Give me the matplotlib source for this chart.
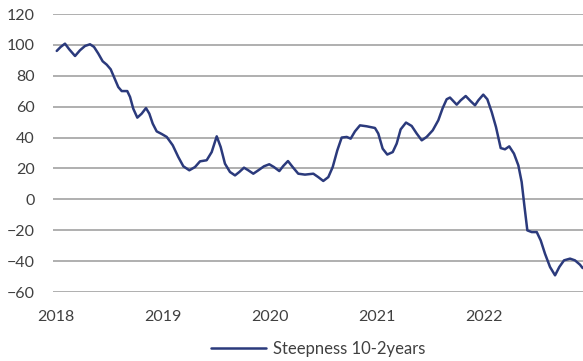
import matplotlib
matplotlib.use('Agg')
import matplotlib.pyplot as plt

# puntos (año decimal, pb)
fechas = [2018.007, 2018.044, 2018.084, 2018.124, 2018.178, 2018.224, 2018.271, 2018.318,
          2018.355, 2018.395, 2018.436, 2018.474, 2018.511, 2018.542, 2018.582, 2018.614,
          2018.666, 2018.692, 2018.722, 2018.760, 2018.801, 2018.841, 2018.872, 2018.904,
          2018.941, 2018.988, 2019.035, 2019.091, 2019.143, 2019.190, 2019.246, 2019.299,
          2019.346, 2019.408, 2019.455, 2019.502, 2019.539, 2019.579, 2019.626, 2019.673,
          2019.713, 2019.757, 2019.797, 2019.844, 2019.891, 2019.944, 2019.993, 2020.037,
          2020.087, 2020.124, 2020.168, 2020.212, 2020.264, 2020.327, 2020.405, 2020.451,
          2020.498, 2020.545, 2020.586, 2020.629, 2020.670, 2020.717, 2020.754, 2020.794,
          2020.841, 2020.903, 2020.981, 2021.012, 2021.053, 2021.096, 2021.147, 2021.184,
          2021.221, 2021.271, 2021.324, 2021.371, 2021.418, 2021.464, 2021.521, 2021.573,
          2021.614, 2021.651, 2021.682, 2021.745, 2021.782, 2021.829, 2021.876, 2021.916,
          2021.947, 2021.993, 2022.031, 2022.072, 2022.112, 2022.156, 2022.196, 2022.236,
          2022.280, 2022.321, 2022.352, 2022.377, 2022.405, 2022.446, 2022.493, 2022.530,
          2022.570, 2022.617, 2022.664, 2022.704, 2022.748, 2022.804, 2022.850, 2022.897,
          2022.922]
steepness = [96.1, 98.7, 100.8, 97.1, 92.8, 96.5, 99.3, 100.4,
             98.7, 94.4, 89.4, 87.2, 84.2, 79.2, 72.7, 70.1,
             70.1, 66.3, 58.7, 52.9, 55.5, 59.1, 55.5, 49.0,
             44.0, 42.3, 40.4, 35.0, 27.4, 21.4, 18.8, 20.9,
             24.6, 25.3, 30.6, 40.8, 33.9, 23.1, 17.7, 15.5,
             17.7, 20.5, 18.8, 16.6, 18.8, 21.4, 22.7, 20.9,
             18.3, 21.6, 24.8, 20.9, 16.6, 16.0, 16.6, 14.4,
             11.9, 14.4, 20.9, 31.7, 40.0, 40.4, 39.3, 44.0,
             47.9, 47.3, 46.2, 42.6, 32.8, 29.0, 30.6, 36.1,
             45.3, 49.7, 47.5, 42.6, 38.2, 40.4, 44.7, 51.2,
             59.1, 64.8, 65.9, 61.3, 64.1, 66.9, 63.5, 60.9,
             64.1, 67.8, 64.8, 56.5, 46.8, 33.2, 32.4, 34.3,
             29.6, 22.0, 11.2, -3.9, -20.1, -21.2, -21.2, -26.6,
             -35.2, -43.8, -49.2, -43.8, -39.5, -38.4, -39.5, -42.3,
             -44.5]
años = [2018, 2019, 2020, 2021, 2022]
yticks = list(range(-60, 121, 20))

plt.rcParams['font.family'] = ['Lato', 'DejaVu Sans']

fig = plt.figure(figsize=(5.83, 3.61), dpi=100)
ax = fig.add_axes([53/583, 69/361, 530/583, 278/361])

ax.plot(fechas, steepness, color='#2b3a7c', lw=1.8, solid_joinstyle='round',
        solid_capstyle='round', label='Steepness 10-2years')

ax.set_xlim(2018 - 3/107, 2018 + 527/107)
ax.set_ylim(-60, 120)
ax.set_xticks(años)
ax.set_xticklabels([str(a) for a in años])
ax.set_yticks(yticks)
ax.yaxis.grid(True, color='#9a9a9a', lw=1.1)
ax.set_axisbelow(True)
for s in ax.spines.values():
    s.set_visible(False)
ax.tick_params(axis='both', length=0, labelsize=11.5, labelcolor='#404040')
ax.tick_params(axis='y', pad=13)
ax.tick_params(axis='x', pad=13)

ax.legend(loc='center', bbox_to_anchor=(0.5, -0.205), frameon=False,
          fontsize=12, labelcolor='#404040', handlelength=3.3, handletextpad=0.4)

fig.savefig('out.png', dpi=100)
